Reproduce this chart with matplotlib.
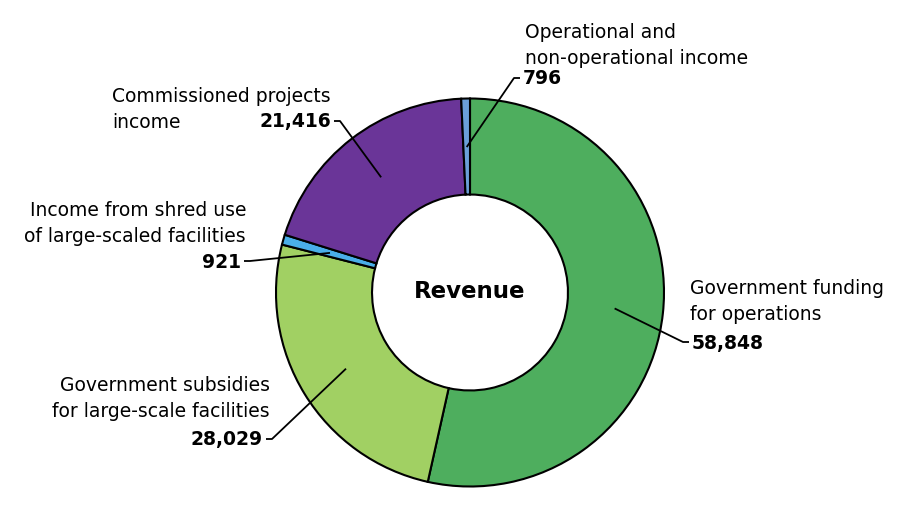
import numpy as np
import matplotlib
matplotlib.use('Agg')
import matplotlib.pyplot as plt

# revenue breakdown, clockwise from the top
names = [['Government funding', 'for operations'],
         ['Government subsidies', 'for large-scale facilities'],
         ['Income from shred use', 'of large-scaled facilities'],
         ['Commissioned projects', 'income'],
         ['Operational and', 'non-operational income']]
values = [58848, 28029, 921, 21416, 796]
colors = ['#4eae5e', '#a1d063', '#4aaee8', '#6a3598', '#6b9fd8']

plt.rcParams['font.family'] = ['DejaVu Sans']

fig = plt.figure(figsize=(9, 5.1), dpi=100)
ax = fig.add_axes([0, 0, 1, 1])

cx, cy = 470, 216.5
R = 194
wedges, _ = ax.pie(values, colors=colors, startangle=90, counterclock=False,
                   center=(cx, cy), radius=R, frame=True,
                   wedgeprops=dict(width=R * 0.495, edgecolor='black', linewidth=1.5))
ax.set_xlim(0, 900)
ax.set_ylim(0, 510)
ax.set_aspect('equal')
ax.axis('off')

ax.text(cx, cy + 2, 'Revenue', ha='center', va='center', fontsize=16.5, fontweight='bold')

# label layout: elbow x, elbow y, side, name x, first name line y (all from top-left)
layout = [
    (683, 343, 'left', 690, 288),
    (272, 440, 'right', 270, 386),
    (250, 262, 'right', 246, 210),
    (340, 122, 'right', 112, 96),
    (514, 79, 'left', 525, 32),
]
name_align = ['left', 'right', 'right', 'left', 'left']

total = float(sum(values))
cum = 0.0
for v, lines, (ex, ey, side, nx, ny), na in zip(values, names, layout, name_align):
    mid = 90 - 360 * (cum + v / 2) / total
    cum += v
    sx = cx + 0.75 * R * np.cos(np.radians(mid))
    sy = cy + 0.75 * R * np.sin(np.radians(mid))
    ey = 510 - ey
    hx = ex + 6 if side == 'left' else ex - 6
    ax.plot([sx, ex, hx], [sy, ey, ey], color='black', lw=1.3, solid_capstyle='butt')
    tx = hx + 3 if side == 'left' else hx - 3
    ax.text(tx, ey, f'{v:,}', ha=side, va='center', fontsize=13.5, fontweight='bold')
    for i, line in enumerate(lines):
        ax.text(nx, 510 - (ny + 26 * i), line, ha=na, va='center', fontsize=13.5)

fig.savefig('out.png', dpi=100, facecolor='white')
